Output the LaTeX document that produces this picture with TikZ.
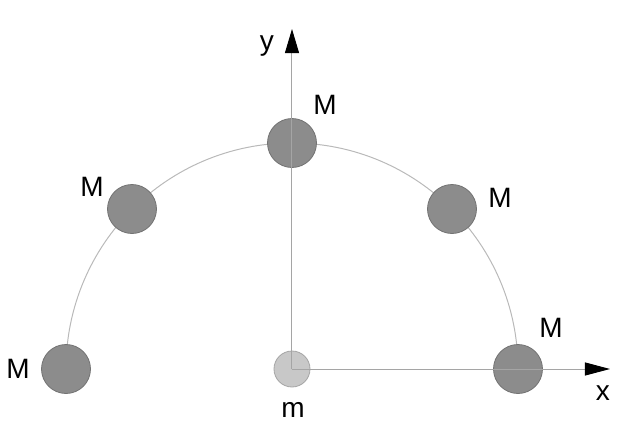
\documentclass[tikz,border=0pt]{standalone}
\usepackage{fontspec}
\setmainfont{Liberation Sans}
\usetikzlibrary{arrows.meta}
\begin{document}
\begin{tikzpicture}[x=0.5pt,y=-0.5pt,
  massM/.style={circle,fill={rgb,255:red,140;green,140;blue,140},draw={rgb,255:red,115;green,115;blue,115},line width=0.4pt,minimum size=24.5pt,inner sep=0pt},
  massm/.style={circle,fill={rgb,255:red,200;green,200;blue,200},draw={rgb,255:red,165;green,165;blue,165},line width=0.4pt,minimum size=18pt,inner sep=0pt},
  orbit/.style={draw={rgb,255:red,185;green,185;blue,185},line width=0.5pt},
  axis/.style={draw={rgb,255:red,165;green,165;blue,165},line width=0.5pt},
  tipx/.style={-{Triangle[length=12.5pt,width=6.5pt,fill=black,color=black]}},
  tipy/.style={-{Triangle[length=12pt,width=7pt,fill=black,color=black]}},
  lbl/.style={font=\fontsize{14pt}{16pt}\selectfont,inner sep=0pt}]
\useasboundingbox (0,0) rectangle (634,429);
\coordinate (O) at (292,369);
\coordinate (R) at (518,369);
\draw[orbit] (R) arc[start angle=0,end angle=-180,radius=226];
\node[massM] (M0) at (518,369) {};
\node[massM] (M1) at (452,209) {};
\node[massM] (M2) at (292,143) {};
\node[massM] (M3) at (132,209) {};
\node[massM] (M4) at (66,369) {};
\node[massm] (m) at (O) {};
\coordinate (xend) at (610,369);
\coordinate (yend) at (292,29);
\draw[axis,tipx] (O) -- (xend);
\draw[axis,tipy] (O) -- (yend);
\node[lbl] (lx) at (603,393) {x};
\node[lbl] (ly) at (267,46) {y};
\node[lbl] (lm) at (293,410) {m};
\node[lbl] (l0) at (551,328) {M};
\node[lbl] (l1) at (500,198) {M};
\node[lbl] (l2) at (325,105) {M};
\node[lbl] (l3) at (92,187) {M};
\node[lbl] (l4) at (18,369) {M};
\end{tikzpicture}
\end{document}
